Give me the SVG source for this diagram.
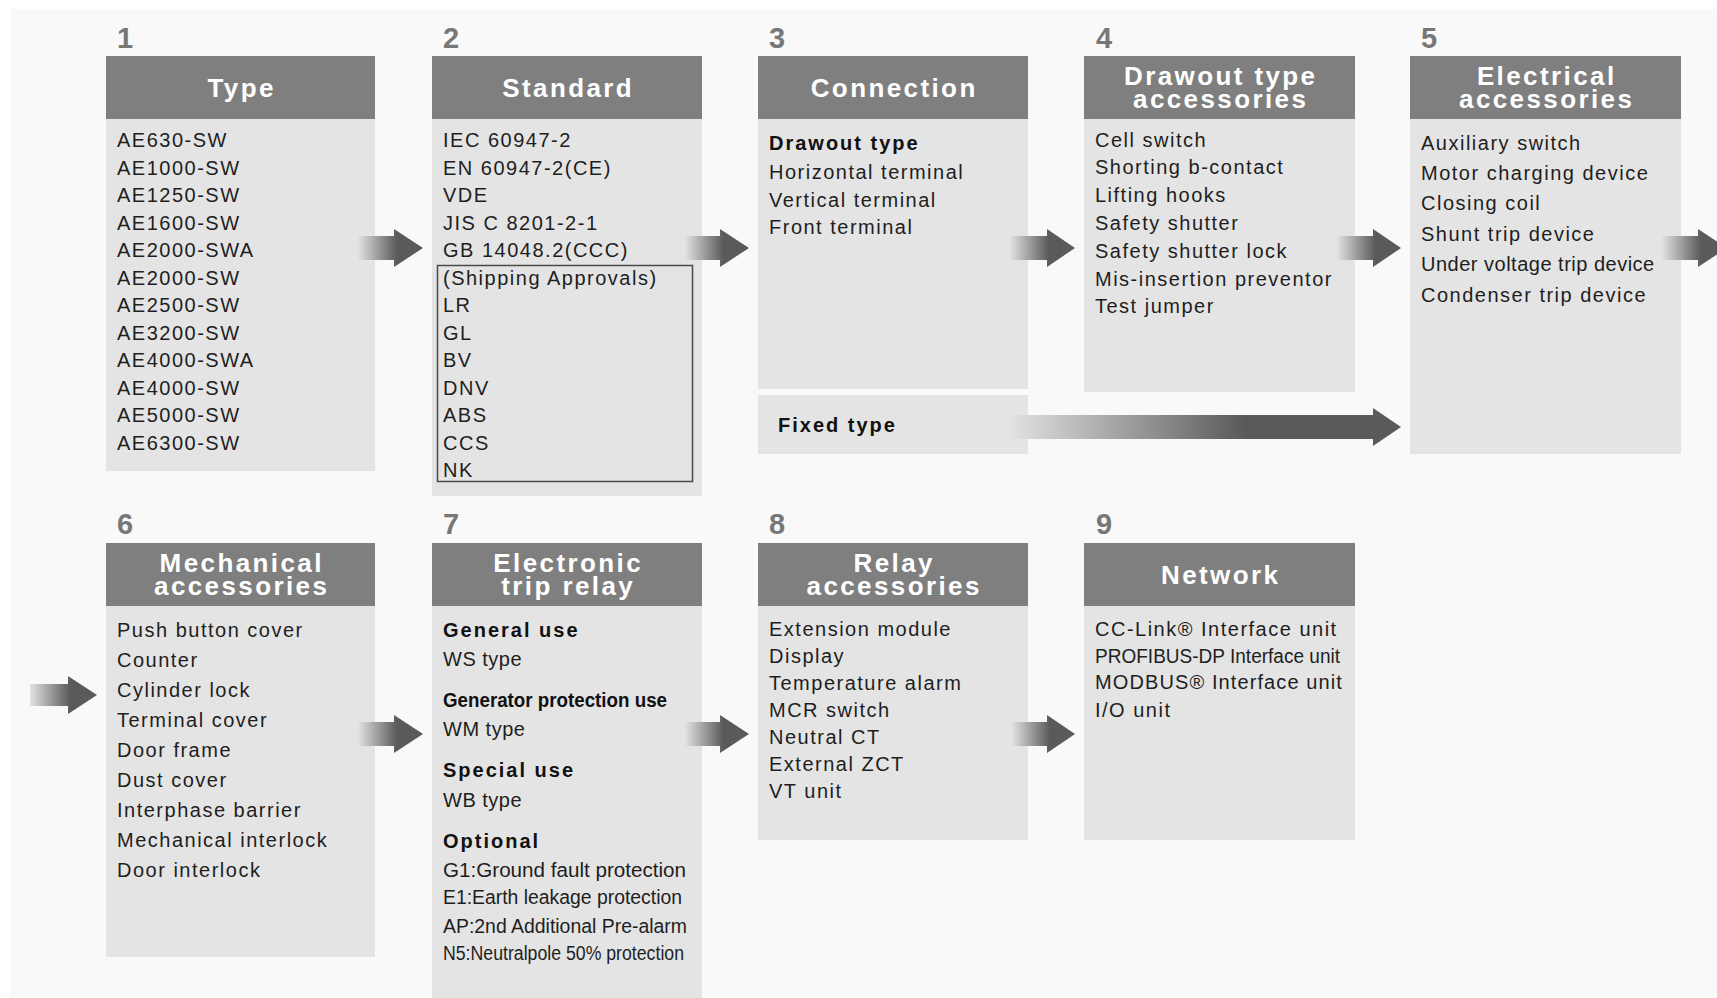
<svg xmlns="http://www.w3.org/2000/svg" width="1717" height="998" viewBox="0 0 1717 998">
<defs>
<linearGradient id="ag" x1="0" y1="0" x2="1" y2="0">
<stop offset="0" stop-color="#e2e2e2"/>
<stop offset="0.6" stop-color="#5a5a5a"/>
<stop offset="1" stop-color="#5a5a5a"/>
</linearGradient>
<style>
.hd{fill:#7f7f7f}
.bd{fill:#e4e4e4}
.num{font-family:"Liberation Sans",Arial,sans-serif;font-weight:bold;font-size:29px;fill:#777777}
.ht{font-family:"Liberation Sans",Arial,sans-serif;font-weight:bold;font-size:26px;fill:#ffffff;letter-spacing:2.4px;text-anchor:middle}
.t{font-family:"Liberation Sans",Arial,sans-serif;font-size:20px;fill:#1e1e1e;letter-spacing:1.5px}
.b{font-family:"Liberation Sans",Arial,sans-serif;font-size:20px;font-weight:bold;fill:#111111;letter-spacing:2px}
.c{letter-spacing:0.5px}
.z{letter-spacing:0}
.arrow{fill:url(#ag)}
</style>
</defs>
<rect x="0" y="0" width="1717" height="998" fill="#ffffff"/>
<rect x="11" y="9" width="1706" height="989" fill="#f9f9f9"/>

<g id="node1">
<text class="num" x="117" y="48">1</text>
<rect class="hd" x="106" y="56" width="269" height="63"/>
<rect class="bd" x="106" y="119" width="269" height="352"/>
<text class="ht" x="241.7" y="97">Type</text>
<text class="t" x="117" y="147">AE630-SW</text>
<text class="t" x="117" y="174.5">AE1000-SW</text>
<text class="t" x="117" y="202">AE1250-SW</text>
<text class="t" x="117" y="229.5">AE1600-SW</text>
<text class="t" x="117" y="257">AE2000-SWA</text>
<text class="t" x="117" y="284.5">AE2000-SW</text>
<text class="t" x="117" y="312">AE2500-SW</text>
<text class="t" x="117" y="339.5">AE3200-SW</text>
<text class="t" x="117" y="367">AE4000-SWA</text>
<text class="t" x="117" y="394.5">AE4000-SW</text>
<text class="t" x="117" y="422">AE5000-SW</text>
<text class="t" x="117" y="449.5">AE6300-SW</text>
</g>

<g id="node2">
<text class="num" x="443" y="48">2</text>
<rect class="hd" x="432" y="56" width="270" height="63"/>
<rect class="bd" x="432" y="119" width="270" height="377"/>
<text class="ht" x="568.2" y="97">Standard</text>
<rect x="437.5" y="265.5" width="255" height="216" fill="none" stroke="#4a4a4a" stroke-width="1.5"/>
<text class="t" x="443" y="147">IEC 60947-2</text>
<text class="t" x="443" y="174.5">EN 60947-2(CE)</text>
<text class="t" x="443" y="202">VDE</text>
<text class="t" x="443" y="229.5">JIS C 8201-2-1</text>
<text class="t" x="443" y="257">GB 14048.2(CCC)</text>
<text class="t" x="443" y="284.5">(Shipping Approvals)</text>
<text class="t" x="443" y="312">LR</text>
<text class="t" x="443" y="339.5">GL</text>
<text class="t" x="443" y="367">BV</text>
<text class="t" x="443" y="394.5">DNV</text>
<text class="t" x="443" y="422">ABS</text>
<text class="t" x="443" y="449.5">CCS</text>
<text class="t" x="443" y="477">NK</text>
</g>

<g id="node3">
<text class="num" x="769" y="48">3</text>
<rect class="hd" x="758" y="56" width="270" height="63"/>
<rect class="bd" x="758" y="119" width="270" height="270"/>
<text class="ht" x="894.2" y="97">Connection</text>
<text class="b" x="769" y="150">Drawout type</text>
<text class="t" x="769" y="179">Horizontal terminal</text>
<text class="t" x="769" y="207">Vertical terminal</text>
<text class="t" x="769" y="234">Front terminal</text>
</g>

<g id="node3b">
<rect class="bd" x="758" y="395" width="270" height="59"/>
<text class="b" x="778" y="432">Fixed type</text>
</g>

<g id="node4">
<text class="num" x="1096" y="48">4</text>
<rect class="hd" x="1084" y="56" width="271" height="63"/>
<rect class="bd" x="1084" y="119" width="271" height="273"/>
<text class="ht" x="1220.7" y="85">Drawout type<tspan x="1220.7" dy="23">accessories</tspan></text>
<text class="t" x="1095" y="147">Cell switch</text>
<text class="t" x="1095" y="174">Shorting b-contact</text>
<text class="t" x="1095" y="202">Lifting hooks</text>
<text class="t" x="1095" y="230">Safety shutter</text>
<text class="t" x="1095" y="258">Safety shutter lock</text>
<text class="t" x="1095" y="286">Mis-insertion preventor</text>
<text class="t" x="1095" y="313">Test jumper</text>
</g>

<g id="node5">
<text class="num" x="1421" y="48">5</text>
<rect class="hd" x="1410" y="56" width="271" height="63"/>
<rect class="bd" x="1410" y="119" width="271" height="335"/>
<text class="ht" x="1546.7" y="85">Electrical<tspan x="1546.7" dy="23">accessories</tspan></text>
<text class="t" x="1421" y="150">Auxiliary switch</text>
<text class="t" x="1421" y="180">Motor charging device</text>
<text class="t" x="1421" y="210">Closing coil</text>
<text class="t" x="1421" y="241">Shunt trip device</text>
<text class="t" x="1421" y="271" style="letter-spacing:0.5px">Under voltage trip device</text>
<text class="t" x="1421" y="302">Condenser trip device</text>
</g>

<g id="node6">
<text class="num" x="117" y="534">6</text>
<rect class="hd" x="106" y="543" width="269" height="63"/>
<rect class="bd" x="106" y="606" width="269" height="351"/>
<text class="ht" x="241.7" y="572">Mechanical<tspan x="241.7" dy="23">accessories</tspan></text>
<text class="t" x="117" y="637">Push button cover</text>
<text class="t" x="117" y="667">Counter</text>
<text class="t" x="117" y="697">Cylinder lock</text>
<text class="t" x="117" y="727">Terminal cover</text>
<text class="t" x="117" y="757">Door frame</text>
<text class="t" x="117" y="787">Dust cover</text>
<text class="t" x="117" y="817">Interphase barrier</text>
<text class="t" x="117" y="847">Mechanical interlock</text>
<text class="t" x="117" y="877">Door interlock</text>
</g>

<g id="node7">
<text class="num" x="443" y="534">7</text>
<rect class="hd" x="432" y="543" width="270" height="63"/>
<rect class="bd" x="432" y="606" width="270" height="392"/>
<text class="ht" x="568.2" y="572">Electronic<tspan x="568.2" dy="23">trip relay</tspan></text>
<text class="b" x="443" y="637">General use</text>
<text class="t c" x="443" y="666">WS type</text>
<text class="b z" x="443" y="707" font-size="18" textLength="224" lengthAdjust="spacingAndGlyphs">Generator protection use</text>
<text class="t c" x="443" y="736">WM type</text>
<text class="b" x="443" y="777">Special use</text>
<text class="t c" x="443" y="807">WB type</text>
<text class="b" x="443" y="848">Optional</text>
<text class="t z" x="443" y="877" textLength="243" lengthAdjust="spacingAndGlyphs">G1:Ground fault protection</text>
<text class="t z" x="443" y="904" textLength="239" lengthAdjust="spacingAndGlyphs">E1:Earth leakage protection</text>
<text class="t z" x="443" y="933" textLength="244" lengthAdjust="spacingAndGlyphs">AP:2nd Additional Pre-alarm</text>
<text class="t z" x="443" y="960" textLength="241" lengthAdjust="spacingAndGlyphs">N5:Neutralpole 50% protection</text>
</g>

<g id="node8">
<text class="num" x="769" y="534">8</text>
<rect class="hd" x="758" y="543" width="270" height="63"/>
<rect class="bd" x="758" y="606" width="270" height="234"/>
<text class="ht" x="894.2" y="572">Relay<tspan x="894.2" dy="23">accessories</tspan></text>
<text class="t" x="769" y="636">Extension module</text>
<text class="t" x="769" y="663">Display</text>
<text class="t" x="769" y="690">Temperature alarm</text>
<text class="t" x="769" y="717">MCR switch</text>
<text class="t" x="769" y="744">Neutral CT</text>
<text class="t" x="769" y="771">External ZCT</text>
<text class="t" x="769" y="798">VT unit</text>
</g>

<g id="node9">
<text class="num" x="1096" y="534">9</text>
<rect class="hd" x="1084" y="543" width="271" height="63"/>
<rect class="bd" x="1084" y="606" width="271" height="234"/>
<text class="ht" x="1220.7" y="584">Network</text>
<text class="t" x="1095" y="636">CC-Link® Interface unit</text>
<text class="t z" x="1095" y="663" textLength="245" lengthAdjust="spacingAndGlyphs">PROFIBUS-DP Interface unit</text>
<text class="t" x="1095" y="689" style="letter-spacing:1.1px">MODBUS® Interface unit</text>
<text class="t" x="1095" y="717">I/O unit</text>
</g>

<g id="connectors">
<path class="arrow" d="M358,236 H394 V229 L423,248 L394,267 V260 H358 Z"/>
<path class="arrow" d="M685,236 H720 V229 L749,248 L720,267 V260 H685 Z"/>
<path class="arrow" d="M1010,236 H1047 V229 L1075,248 L1047,267 V260 H1010 Z"/>
<path class="arrow" d="M1337,236 H1373 V229 L1401,248 L1373,267 V260 H1337 Z"/>
<path class="arrow" d="M1662,236 H1698 V229 L1727,248 L1698,267 V260 H1662 Z"/>
<path class="arrow" d="M1010,415 H1373 V408 L1401,427 L1373,446 V439 H1010 Z"/>
<path class="arrow" d="M30,684 H68 V676 L97,695 L68,714 V706 H30 Z"/>
<path class="arrow" d="M358,722 H394 V715 L423,734 L394,753 V746 H358 Z"/>
<path class="arrow" d="M685,722 H720 V715 L749,734 L720,753 V746 H685 Z"/>
<path class="arrow" d="M1012,722 H1047 V715 L1075,734 L1047,753 V746 H1012 Z"/>
</g>
</svg>
